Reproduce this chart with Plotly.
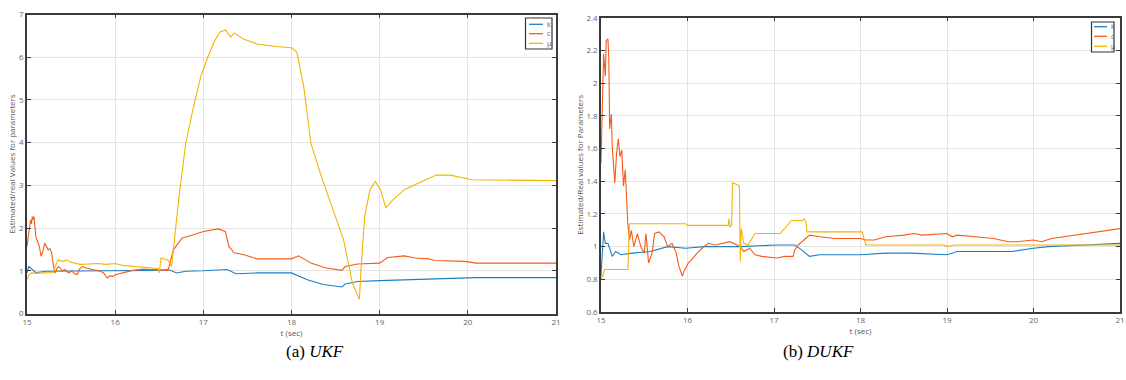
import plotly.graph_objects as go

# ---------------- UKF (left) ----------------
ukf_k_t = [15.0, 15.02, 15.06, 15.1, 15.22, 15.51, 15.91, 16.52, 16.6, 16.7, 16.8, 17.0, 17.27, 17.37,
           17.61, 18.0, 18.18, 18.36, 18.57, 18.61, 18.75, 19.0, 19.36, 19.76, 20.09, 21.0]
ukf_k_v = [0.95, 1.1, 1.03, 0.96, 0.99, 0.99, 1.0, 1.01, 1.03, 0.95, 0.99, 1.0, 1.03, 0.93,
           0.95, 0.95, 0.79, 0.68, 0.62, 0.69, 0.75, 0.77, 0.79, 0.82, 0.84, 0.84]

ukf_c_t = [15.0, 15.02, 15.04, 15.05, 15.06, 15.07, 15.08, 15.1, 15.12, 15.14, 15.16, 15.18, 15.2, 15.22,
           15.24, 15.26, 15.28, 15.3, 15.32, 15.34, 15.36, 15.4, 15.43, 15.47, 15.51, 15.54, 15.57,
           15.6, 15.63, 15.68, 15.75, 15.8, 15.83, 15.87, 15.91, 15.94, 15.97, 16.02, 16.07, 16.13,
           16.2, 16.32, 16.48, 16.6, 16.66, 16.76, 16.88, 17.0, 17.17, 17.25, 17.29, 17.35, 17.45,
           17.61, 18.0, 18.08, 18.22, 18.38, 18.57, 18.61, 18.75, 19.0, 19.09, 19.28, 19.4, 19.56,
           19.62, 19.97, 20.09, 21.0]
ukf_c_v = [1.57, 1.96, 2.19, 2.1, 2.27, 2.2, 2.27, 1.8, 1.7, 1.57, 1.34, 1.45, 1.65, 1.55,
           1.49, 1.52, 1.42, 1.1, 0.95, 1.05, 1.1, 1.0, 1.03, 0.95, 0.99, 0.93, 0.91,
           1.05, 1.1, 1.06, 1.03, 1.0, 0.99, 0.95, 0.83, 0.88, 0.87, 0.92, 0.95, 0.97,
           1.01, 1.04, 1.03, 1.01, 1.49, 1.77, 1.84, 1.92, 1.98, 1.92, 1.57, 1.42, 1.38,
           1.28, 1.28, 1.35, 1.18, 1.07, 1.01, 1.1, 1.16, 1.18, 1.31, 1.35, 1.3, 1.28,
           1.24, 1.22, 1.18, 1.18]

ukf_mu_t = [15.0, 15.02, 15.05, 15.1, 15.2, 15.3, 15.33, 15.35, 15.4, 15.45, 15.5, 15.55, 15.6, 15.7,
            15.8, 15.9, 16.0, 16.1, 16.25, 16.4, 16.49, 16.5, 16.52, 16.56, 16.6, 16.64, 16.68,
            16.72, 16.8, 16.88, 16.97, 17.05, 17.13, 17.19, 17.25, 17.31, 17.35, 17.45, 17.61,
            17.82, 18.0, 18.06, 18.14, 18.22, 18.34, 18.47, 18.59, 18.69, 18.77, 18.79, 18.83,
            18.89, 18.95, 19.01, 19.07, 19.15, 19.28, 19.48, 19.64, 19.8, 19.97, 20.05, 21.0]
ukf_mu_v = [0.8, 0.9, 0.95, 0.94, 0.95, 0.96, 1.15, 1.25, 1.22, 1.25, 1.2, 1.17, 1.15, 1.16,
            1.17, 1.15, 1.17, 1.12, 1.1, 1.07, 1.05, 0.95, 1.3, 1.27, 1.25, 1.1, 1.88,
            2.66, 3.98, 4.76, 5.54, 6.0, 6.39, 6.59, 6.64, 6.47, 6.57, 6.43, 6.31,
            6.25, 6.22, 6.12, 5.3, 3.98, 3.2, 2.43, 1.73, 0.72, 0.33, 1.1, 2.27,
            2.9, 3.09, 2.9, 2.47, 2.66, 2.9, 3.09, 3.24, 3.24, 3.17, 3.13, 3.11]

# ---------------- DUKF (right) ----------------
dukf_k_t = [15.0, 15.02, 15.03, 15.05, 15.08, 15.13, 15.17, 15.23, 15.36, 15.57, 15.77, 15.98, 16.19,
            16.61, 17.03, 17.24, 17.32, 17.41, 17.53, 18.0, 18.29, 18.58, 19.0, 19.12, 19.75, 20.0,
            20.17, 20.59, 21.0]
dukf_k_v = [0.82, 1.04, 1.09, 1.02, 1.02, 0.94, 0.97, 0.95, 0.96, 0.97, 1.0, 0.99, 1.0,
            1.0, 1.01, 1.01, 0.98, 0.94, 0.95, 0.95, 0.96, 0.96, 0.95, 0.97, 0.97, 0.99,
            1.0, 1.01, 1.02]

dukf_c_t = [15.0, 15.02, 15.03, 15.05, 15.06, 15.08, 15.09, 15.1, 15.12, 15.13, 15.16, 15.18, 15.2,
            15.22, 15.24, 15.26, 15.28, 15.31, 15.33, 15.35, 15.38, 15.42, 15.46, 15.5, 15.52,
            15.55, 15.59, 15.62, 15.67, 15.73, 15.77, 15.82, 15.87, 15.9, 15.94, 15.96, 16.01,
            16.05, 16.11, 16.17, 16.24, 16.32, 16.42, 16.49, 16.57, 16.61, 16.65, 16.72, 16.78,
            16.86, 17.03, 17.13, 17.22, 17.24, 17.28, 17.35, 17.41, 17.53, 17.7, 18.0, 18.06,
            18.16, 18.29, 18.5, 18.62, 18.71, 19.0, 19.06, 19.12, 19.33, 19.54, 19.71, 19.81,
            20.0, 20.09, 20.21, 20.59, 21.0]
dukf_c_v = [1.51, 1.9, 2.18, 2.04, 2.26, 2.27, 2.16, 1.72, 1.81, 1.61, 1.39, 1.57, 1.66,
            1.55, 1.59, 1.37, 1.47, 1.14, 1.04, 1.1, 1.0, 1.08, 1.0, 0.96, 1.08,
            0.9, 0.96, 1.08, 1.09, 1.06, 1.0, 1.02, 0.96, 0.88, 0.82, 0.85, 0.9,
            0.92, 0.96, 0.99, 1.02, 1.01, 1.02, 1.03, 1.01, 1.0, 0.97, 0.99, 0.95,
            0.94, 0.93, 0.94, 0.94, 0.98, 1.01, 1.04, 1.07, 1.06, 1.05, 1.05, 1.04,
            1.04, 1.06, 1.07, 1.08, 1.07, 1.08, 1.06, 1.07, 1.06, 1.05, 1.03, 1.03,
            1.04, 1.03, 1.05, 1.08, 1.11]

dukf_mu_t = [15.0, 15.02, 15.04, 15.31, 15.33, 15.98, 16.0, 16.47, 16.48, 16.49, 16.51, 16.52, 16.57,
             16.6, 16.61, 16.62, 16.65, 16.7, 16.78, 17.07, 17.14, 17.2, 17.33, 17.35, 17.37,
             17.38, 18.02, 18.06, 18.96, 19.02, 19.08, 21.0]
dukf_mu_v = [0.8, 0.82, 0.86, 0.86, 1.14, 1.14, 1.13, 1.13, 1.17, 1.12, 1.13, 1.39, 1.38,
             1.37, 0.91, 1.11, 1.02, 1.01, 1.08, 1.08, 1.12, 1.16, 1.16, 1.17, 1.15,
             1.09, 1.09, 1.01, 1.01, 1.0, 1.01, 1.01]

series_names = ["k", "c", "μ"]
colors = ["#1a80c4", "#f75a16", "#f4b400"]

x_ticks = [15, 16, 17, 18, 19, 20, 21]
ukf_y_ticks = [0, 1, 2, 3, 4, 5, 6, 7]
dukf_y_ticks = [0.6, 0.8, 1, 1.2, 1.4, 1.6, 1.8, 2, 2.2, 2.4]
dukf_y_text = ["0.6", "0.8", "1", "1.2", "1.4", "1.6", "1.8", "2", "2.2", "2.4"]

W, H = 1126, 380
def px_x(p):
    return p / W
def px_y(p):
    return 1 - p / H

fig = go.Figure()

ukf = [(ukf_k_t, ukf_k_v), (ukf_c_t, ukf_c_v), (ukf_mu_t, ukf_mu_v)]
dukf = [(dukf_k_t, dukf_k_v), (dukf_c_t, dukf_c_v), (dukf_mu_t, dukf_mu_v)]

for i, (t, v) in enumerate(ukf):
    fig.add_trace(go.Scatter(x=t, y=v, mode="lines", name=series_names[i],
                             line=dict(color=colors[i], width=1.1),
                             xaxis="x", yaxis="y", showlegend=False))
for i, (t, v) in enumerate(dukf):
    fig.add_trace(go.Scatter(x=t, y=v, mode="lines", name=series_names[i],
                             line=dict(color=colors[i], width=1.1),
                             xaxis="x2", yaxis="y2", showlegend=False))

axis_common = dict(
    showline=True, linecolor="#3a3a3a", linewidth=1.5, mirror="ticks",
    ticks="inside", ticklen=4, tickcolor="#3a3a3a", tickwidth=1,
    showgrid=True, gridcolor="#e3e3e3", gridwidth=1, automargin=False,
    zeroline=False, tickfont=dict(family="Open Sans", size=8, color="#666666"),
)
title_font = dict(family="Open Sans", size=8, color="#555555")

# MATLAB-style small legend boxes (box, line samples, labels)
shapes = []
annotations = []
legend_boxes = [
    # (box x0, box x1, box y0, box y1, line x0, line x1, text x, row ys)
    (525.5, 552, 18, 49, 529, 543, 545, [24.3, 33.7, 43.3]),
    (1091.5, 1114, 22, 52, 1094, 1107, 1109, [26.7, 36.3, 46.3]),
]
for bx0, bx1, by0, by1, lx0, lx1, tx, rows in legend_boxes:
    shapes.append(dict(type="rect", xref="paper", yref="paper",
                       x0=px_x(bx0), x1=px_x(bx1), y0=px_y(by1), y1=px_y(by0),
                       line=dict(color="#333333", width=1.2), fillcolor="white", layer="above"))
    for i, ry in enumerate(rows):
        shapes.append(dict(type="line", xref="paper", yref="paper",
                           x0=px_x(lx0), x1=px_x(lx1), y0=px_y(ry), y1=px_y(ry),
                           line=dict(color=colors[i], width=1.3), layer="above"))
        annotations.append(dict(text=series_names[i], x=px_x(tx), y=px_y(ry), xref="paper", yref="paper",
                                xanchor="left", yanchor="middle", showarrow=False,
                                font=dict(family="Open Sans", size=7, color="#666666")))

annotations += [
    dict(text="(a) <i>UKF</i>", x=px_x(284), y=px_y(363), xref="paper", yref="paper",
         showarrow=False, font=dict(family="Liberation Serif", size=17, color="black")),
    dict(text="(b) <i>DUKF</i>", x=px_x(856), y=px_y(363), xref="paper", yref="paper",
         showarrow=False, font=dict(family="Liberation Serif", size=17, color="black")),
]

fig.update_layout(
    width=W, height=H,
    margin=dict(l=0, r=0, t=0, b=0),
    paper_bgcolor="white", plot_bgcolor="white",
    showlegend=False,
    xaxis=dict(domain=[px_x(27), px_x(556)], range=[15, 21], tickvals=x_ticks,
               title=dict(text="t (sec)", font=title_font, standoff=1),
               anchor="y", **axis_common),
    yaxis=dict(domain=[px_y(313.5), px_y(14.5)], range=[0, 7], tickvals=ukf_y_ticks,
               title=dict(text="Estimated/real Values for parameters", font=title_font, standoff=2),
               anchor="x", **axis_common),
    xaxis2=dict(domain=[px_x(601), px_x(1120)], range=[15, 21], tickvals=x_ticks,
                title=dict(text="t (sec)", font=title_font, standoff=1),
                anchor="y2", **axis_common),
    yaxis2=dict(domain=[px_y(312), px_y(17.7)], range=[0.6, 2.4], tickvals=dukf_y_ticks,
                ticktext=dukf_y_text,
                title=dict(text="Estimated/Real values for Parameters", font=title_font, standoff=2),
                anchor="x2", **axis_common),
    shapes=shapes,
    annotations=annotations,
)

fig.write_html("out.html", config={"displayModeBar": False},
               post_script="document.body.style.margin='0';document.body.style.padding='0';")
